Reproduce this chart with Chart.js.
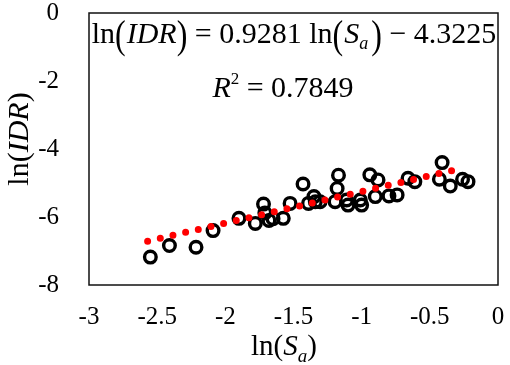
<!DOCTYPE html>
<html>
<head>
<meta charset="utf-8">
<script src="https://cdn.jsdelivr.net/npm/chart.js@4.4.1/dist/chart.umd.min.js"></script>
<style>
  html, body { margin: 0; padding: 0; background: #fff; }
  #wrap { width: 510px; height: 365px; }
</style>
</head>
<body>
<div id="wrap"><canvas id="chart"></canvas></div>
<script>
// observed points: ln(Sa) and ln(IDR)
var lnSa = [-2.55, -2.41, -2.215, -2.09, -1.90, -1.78, -1.72, -1.71, -1.68, -1.65,
            -1.575, -1.525, -1.43, -1.39, -1.35, -1.34, -1.305, -1.17, -1.18, -1.195,
            -1.11, -1.10, -1.01, -1.0, -0.94, -0.88, -0.90, -0.80, -0.74, -0.66,
            -0.61, -0.41, -0.43, -0.35, -0.26, -0.22];
var lnIDR = [-7.18, -6.84, -6.89, -6.40, -6.04, -6.19, -5.62, -5.88, -6.10, -6.05,
             -6.04, -5.60, -5.03, -5.60, -5.40, -5.55, -5.55, -4.77, -5.16, -5.55,
             -5.50, -5.65, -5.50, -5.65, -4.76, -4.91, -5.40, -5.38, -5.35, -4.86,
             -4.96, -4.40, -4.89, -5.09, -4.89, -4.96];
// trend line end points
var trendX = [-2.57, -0.29];
var trendY = [-6.71, -4.59];
// tick labels
var xTicks = [-3, -2.5, -2, -1.5, -1, -0.5, 0];
var yTicks = [-8, -6, -4, -2, 0];

var SERIF = "'Liberation Serif', 'Times New Roman', serif";

function pairs(xs, ys) {
  var out = [];
  for (var i = 0; i < xs.length; i++) {
    out.push({x: xs[i], y: ys[i]});
  }
  return out;
}

// draw a run of text pieces with different fonts, starting at x
function drawRun(ctx, parts, x, y, align) {
  var total = 0;
  parts.forEach(function(p) {
    ctx.font = p.font;
    total += ctx.measureText(p.t).width + (p.gap || 0);
  });
  var cx = align === "center" ? x - total / 2 : x;
  ctx.textBaseline = "alphabetic";
  ctx.textAlign = "left";
  parts.forEach(function(p) {
    ctx.font = p.font;
    ctx.save();
    if (p.sy) {
      ctx.translate(cx, y + (p.dy || 0));
      ctx.scale(1, p.sy);
      ctx.fillText(p.t, 0, 0);
    } else {
      ctx.fillText(p.t, cx, y + (p.dy || 0));
    }
    ctx.restore();
    cx += ctx.measureText(p.t).width + (p.gap || 0);
  });
}

var decor = {
  id: "decor",
  afterDraw: function(c) {
    var ctx = c.ctx;
    var a = c.chartArea;
    ctx.save();
    ctx.strokeStyle = "#111";
    ctx.lineWidth = 1.5;
    ctx.strokeRect(a.left, a.top, a.right - a.left, a.bottom - a.top);
    ctx.fillStyle = "#000";

    var n = "30px " + SERIF, it = "italic 30px " + SERIF;
    var par = "32px " + SERIF, sub = "italic 18px " + SERIF;
    drawRun(ctx, [
      {t: "ln", font: n},
      {t: "(", font: par, sy: 1.25, dy: 5, gap: 1},
      {t: "IDR", font: it},
      {t: ")", font: par, sy: 1.25, dy: 5},
      {t: " = 0.9281 ln", font: n},
      {t: "(", font: par, sy: 1.25, dy: 5, gap: 1},
      {t: "S", font: it},
      {t: "a", font: sub, dy: 6, gap: 3},
      {t: ")", font: par, sy: 1.25, dy: 5},
      {t: " \u2212 4.3225", font: n}
    ], 294, 43, "center");

    drawRun(ctx, [
      {t: "R", font: it},
      {t: "2", font: "17px " + SERIF, dy: -13},
      {t: " = 0.7849", font: n}
    ], 283, 97, "center");

    // x axis title
    drawRun(ctx, [
      {t: "ln(", font: "29px " + SERIF},
      {t: "S", font: "italic 29px " + SERIF},
      {t: "a", font: "italic 19px " + SERIF, dy: 7},
      {t: ")", font: "29px " + SERIF}
    ], 284, 355, "center");

    // y axis title
    ctx.save();
    ctx.translate(28, 139);
    ctx.rotate(-Math.PI / 2);
    drawRun(ctx, [
      {t: "ln(", font: "30px " + SERIF},
      {t: "IDR", font: "italic 30px " + SERIF},
      {t: ")", font: "30px " + SERIF}
    ], 0, 0, "center");
    ctx.restore();
    ctx.restore();
  }
};

chart = new Chart(document.getElementById("chart"), {
  type: "scatter",
  data: {
    datasets: [
      {
        label: "trend",
        data: pairs(trendX, trendY),
        showLine: true,
        borderColor: "#ff0000",
        borderWidth: 7,
        borderCapStyle: "round",
        borderDash: [0, 13],
        pointRadius: 0,
        order: 0
      },
      {
        label: "data",
        data: pairs(lnSa, lnIDR),
        pointStyle: "circle",
        pointRadius: 5.8,
        pointBorderWidth: 3.4,
        borderColor: "#000",
        backgroundColor: "rgba(0,0,0,0)",
        order: 1
      }
    ]
  },
  options: {
    responsive: true,
    maintainAspectRatio: false,
    animation: false,
    layout: { padding: { top: 13, right: 12, left: 0, bottom: 0 } },
    plugins: { legend: { display: false }, tooltip: { enabled: false } },
    scales: {
      x: {
        min: -3, max: 0,
        grid: { display: false, drawTicks: false },
        border: { display: false },
        afterBuildTicks: function(s) { s.ticks = xTicks.map(function(v) { return {value: v}; }); },
        afterFit: function(s) { s.height = 80; s.paddingLeft = 0; s.paddingRight = 0; },
        ticks: { color: "#000", padding: 17, maxRotation: 0, autoSkip: false,
                 callback: function(v) { return String(v); },
                 font: { family: SERIF, size: 25 } }
      },
      y: {
        min: -8, max: 0,
        grid: { display: false, drawTicks: false },
        border: { display: false },
        afterBuildTicks: function(s) { s.ticks = yTicks.map(function(v) { return {value: v}; }); },
        afterFit: function(s) { s.width = 89; s.paddingTop = 0; s.paddingBottom = 0; },
        ticks: { color: "#000", padding: 30, autoSkip: false,
                 callback: function(v) { return String(v); },
                 font: { family: SERIF, size: 25 } }
      }
    }
  },
  plugins: [decor]
});
</script>
</body>
</html>
